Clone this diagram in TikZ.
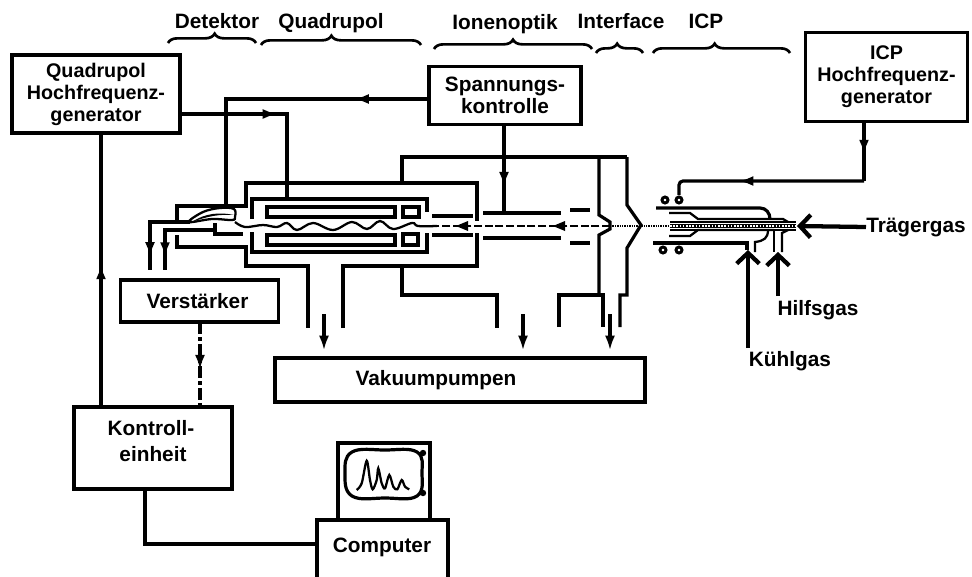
\documentclass[tikz,border=0pt]{standalone}
\usepackage{fontspec}
\setmainfont{Liberation Sans}
\usepackage{xcolor}
\usetikzlibrary{arrows.meta, decorations.markings, decorations.pathreplacing}
\tikzset{
  box/.style={rectangle, draw=black, line width=2.4pt, fill=white, align=center, inner sep=0pt, font=\lbl},
  lbl/.style={align=center, inner sep=0pt, font=\lbl},
  wire/.style={line width=2.4pt, line cap=butt},
  thin wire/.style={line width=1.7pt},
  tipat/.style={postaction={decorate}, decoration={markings, mark=at position #1 with {\arrow{Latex[length=11pt,width=7.5pt]}}}},
  arrow/.style={wire, -{Latex[length=11pt,width=7.5pt]}, shorten >=4.5pt},
  gas/.style={line width=3.2pt, -{Straight Barb[length=8pt,width=17pt]}},
  bracket/.style={line width=2pt, decorate, decoration={brace, amplitude=7pt, aspect=#1}},
}
\newcommand{\lbl}{\fontsize{15.6}{16.5}\selectfont\bfseries}
\newcommand{\gen}{\fontsize{14.8}{16.5}\selectfont\bfseries}
\begin{document}
\begin{tikzpicture}[x=0.75pt, y=-0.75pt]
\useasboundingbox (0,0) rectangle (972,576);
% section labels
\node[lbl, anchor=base] (ldet) at (217,28) {Detektor};
\node[lbl, anchor=base] (lquad) at (331,28) {Quadrupol};
\node[lbl, anchor=base] (lion) at (505,29) {Ionenoptik};
\node[lbl, anchor=base] (lint) at (621,28) {Interface};
\node[lbl, anchor=base] (licp) at (706,28) {ICP};
\draw[bracket=0.53] (168,43) -- (256,43);
\draw[bracket=0.44] (261,45) -- (421,45);
\draw[bracket=0.5] (434,49) -- (592,49);
\draw[bracket=0.45] (596,53) -- (643,53);
\draw[bracket=0.45] (653,53) -- (790,53);
% boxes
\node[box, font=\gen, minimum width=126pt, minimum height=58.5pt] (qgen) at (96,94) {Quadrupol\\Hochfrequenz-\\generator};
\node[box, minimum width=114pt, minimum height=44pt] (volt) at (505,95.5) {Spannungs-\\kontrolle};
\node[box, font=\gen, minimum width=122pt, minimum height=67pt] (igen) at (886.5,77) {ICP\\Hochfrequenz-\\generator};
\node[box, minimum width=119pt, minimum height=31.5pt] (amp) at (199.5,301) {Verstärker\hspace*{3pt}};
\node[box, minimum width=277.5pt, minimum height=33pt] (vac) at (460,380) {Vakuumpumpen\hspace*{36pt}};
\node[box, minimum width=118.5pt, minimum height=61.5pt] (ctrl) at (153,448) {Kontroll-\hspace*{3pt}\\[2.5pt]einheit\hspace*{3pt}\\[-11pt]\strut};
\node[box, minimum width=69pt, minimum height=57.75pt] (mon) at (384,481.5) {};
\node[box, minimum width=98.25pt, minimum height=60pt] (comp) at (382.5,560) {};
\node[lbl] (ctxt) at (382,547) {Computer};
% screen
\draw[wire] plot[smooth cycle, tension=0.7] coordinates {(352,452) (385,450) (417,452) (422,473) (417,496) (385,498) (352,496) (345,473)};
\draw[thin wire] plot[smooth, tension=0.5] coordinates {(356.7,490) (361.7,483.3) (366.7,460.7) (370,480) (372.7,489.3) (376.7,480) (378.3,468.3) (381.7,483.3) (385,488.3) (389.3,475) (393.3,486.7) (397.3,489.3) (401.7,480) (405,486.7) (409.3,489.3)};
\fill (423,453) circle (3.2);
\fill (423,493) circle (3.2);
% signal lines
\coordinate (qa) at (101,133);
\coordinate (qb) at (180,114);
\coordinate (ka) at (101,407);
\coordinate (kb) at (145,489);
\coordinate (ampout) at (200,322);
\coordinate (ctrlin) at (200,407);
\coordinate (va) at (429,99);
\coordinate (vb) at (504,125);
\coordinate (ia) at (864,122);
\draw[wire, tipat=0.52] (ka) -- (qa);
\draw[wire] (kb) |- (comp.west |- 0,544);
\draw[wire, dash pattern=on 9pt off 2.5pt on 2.5pt off 2.5pt, tipat=0.56] (ampout) -- (ctrlin);
\draw[wire, tipat=0.24] (va) -- (226,99) -- (226,208);
\draw[wire, tipat=0.51] (qb) -- (287,114) -- (287,198);
\draw[wire, tipat=0.7] (vb) -- (504,213);
\draw[wire, tipat=0.55] (ia) -- (864,181);
\draw[wire, tipat=0.635, rounded corners=3pt] (864,181) -- (679,181) -- (679,195);
% housing
\draw[wire] (627,157) -- (402,157) -- (402,183) -- (246,183) -- (246,206) -- (177,206) -- (177,222);
\draw[wire] (627,157) -- (627,205) -- (641,225) -- (627,248) -- (627,295) -- (620,295) -- (620,327);
\draw[wire] (599,157) -- (599,215) -- (610,222) -- (610,229) -- (599,235) -- (599,295);
\draw[wire] (559,327) -- (559,295) -- (603,295) -- (603,327);
\draw[wire] (402,183) -- (477,183) -- (477,221);
\draw[wire] (177,235) -- (177,247) -- (246,247) -- (246,266) -- (308,266) -- (308,328);
\draw[wire] (343,328) -- (343,266) -- (477,266) -- (477,233);
\draw[wire] (402,267) -- (402,295) -- (497,295) -- (497,328);
% pump arrows
\draw[arrow] (324,314) -- (324,314 |- vac.north);
\draw[arrow] (523,314) -- (523,314 |- vac.north);
\draw[arrow] (610,314) -- (610,314 |- vac.north);
% quadrupole
\draw[wire] (252,219) -- (252,199) -- (427,199) -- (427,212);
\draw[wire] (252,232) -- (252,252) -- (427,252) -- (427,233);
\draw[wire] (267,207) rectangle (395,217);
\draw[wire] (267,235) rectangle (395,245);
\draw[wire] (403,207) rectangle (419,217);
\draw[wire] (403,234) rectangle (418,245);
% ion optics
\draw[wire] (432,216) -- (473,216);
\draw[wire] (432,235) -- (473,235);
\draw[wire] (483,213) -- (561,213);
\draw[wire] (483,238) -- (561,238);
\draw[wire] (570,210) -- (590,210);
\draw[wire] (570,243) -- (590,243);
% ion beam
\draw[thin wire] plot[smooth, tension=0.6] coordinates {(235,222) (245,227) (263,225) (277,227) (287,223) (297,230) (313,223) (333,230) (352,222) (367,229) (380,221) (393,229) (412,223) (418,226) (437,226)};
\draw[thin wire, dash pattern=on 6pt off 2pt] (610,226) -- (437,226);
\fill (456,226) -- (468,221) -- (468,231) -- cycle;
\fill (553,226) -- (565,221) -- (565,231) -- cycle;
\draw[line width=1.4pt, dash pattern=on 1pt off 0.8pt] (610,226) -- (672,226);
% detector
\draw[thin wire, fill=white] plot[smooth cycle, tension=0.6] coordinates {(189,222) (203,212) (220,208) (234,209) (235,217) (232,220) (212,219)};
\fill (192,222) .. controls (205,213) and (220,212) .. (234,215) .. controls (220,214) and (208,216) .. cycle;
\draw[wire, tipat=0.85] (190,222) -- (150,222) -- (150,270);
\draw[wire, tipat=0.855] (215,230) -- (165,230) -- (165,270);
\draw[wire] (215,223) -- (215,234) -- (243,234);
% torch
\draw[wire] (656,208) -- (760,208) .. controls (766,208) and (770,213) .. (770,219);
\draw[wire] (653,243) -- (747,243) -- (747,250);
\draw[thin wire] (755,252) -- (755,242) .. controls (764,241) and (768,238) .. (768,230);
\draw[thin wire] (669,213) -- (690,213) -- (698,219) -- (783,219) -- (788,222);
\draw[thin wire] (669,236) -- (690,236) -- (698,230) -- (774,230);
\draw[line width=1.4pt] (670,222) -- (796,222);
\draw[line width=1.4pt] (670,230) -- (796,230);
\draw[line width=3.5pt] (670,226) -- (796,226);
\draw[white, line width=1.2pt, dash pattern=on 1.2pt off 1.2pt] (670,226) -- (796,226);
\draw[thin wire] (774,230) -- (774,252);
\draw[thin wire] (782,252) -- (782,233) -- (788,230);
\foreach \cx/\cy in {665/200, 679/200, 663/250, 679/250}
  \draw[line width=2.2pt] (\cx,\cy) circle (3);
% gases
\node[lbl, anchor=base west] (carrier) at (866,232) {Trägergas};
\node[lbl, anchor=base] (aux) at (818,315) {Hilfsgas};
\node[lbl, anchor=base] (cool) at (790,366) {Kühlgas};
\draw[gas] (carrier.west) -- (797,226);
\coordinate (auxtip) at (778,252);
\coordinate (cooltip) at (748,250);
\draw[gas] (778,296) -- (auxtip);
\draw[gas] (748,348) -- (cooltip);
\end{tikzpicture}
\end{document}
